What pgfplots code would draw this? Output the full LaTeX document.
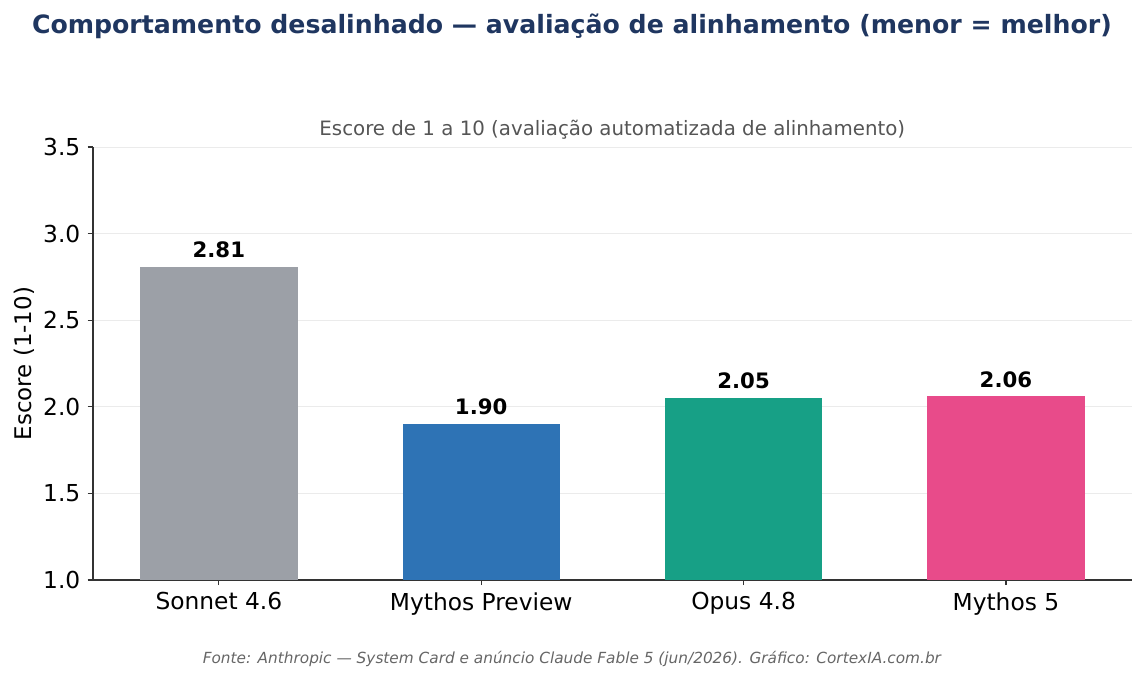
\documentclass[border=0pt]{standalone}
\usepackage{fontspec}
\setmainfont{DejaVu Sans}
\usepackage{pgfplots}
\pgfplotsset{compat=1.18}
\definecolor{titlec}{HTML}{1F3660}
\definecolor{subc}{HTML}{555555}
\definecolor{footc}{HTML}{666666}
\definecolor{spine}{HTML}{333333}
\definecolor{gridc}{HTML}{EBEBEB}
\definecolor{cgray}{HTML}{9CA0A7}
\definecolor{cblue}{HTML}{2E73B5}
\definecolor{cteal}{HTML}{17A086}
\definecolor{cpink}{HTML}{E84B8A}
\begin{document}
\begin{tikzpicture}
\path[use as bounding box] (-44.6pt,-48pt) rectangle (505pt,278.4pt);
\begin{axis}[
  at={(0,0)}, anchor=south west,
  scale only axis, width=498.7pt, height=207.8pt,
  xmin=-0.48, xmax=3.48, ymin=1, ymax=3.5,
  axis x line*=bottom, axis y line*=left,
  axis line style={spine, line width=0.6pt, -},
  xtick={0,1,2,3},
  xticklabels={Sonnet 4.6, Mythos Preview, Opus 4.8, Mythos 5},
  ytick={1,1.5,2,2.5,3,3.5},
  yticklabel style={/pgf/number format/.cd, fixed, fixed zerofill, precision=1},
  /pgf/number format/assume math mode=true,
  tick label style={font=\fontsize{11.2}{13}\selectfont, black},
  tick align=outside, major tick length=2.5pt,
  tick style={spine, line width=0.6pt},
  ymajorgrids, grid style={gridc, line width=0.5pt},
  axis on top=false,
  ylabel={Escore (1-10)},
  ylabel style={font=\fontsize{11}{13}\selectfont, yshift=-2.5pt},
  bar width=0.6,
  nodes near coords,
  nodes near coords style={font=\bfseries\fontsize{10.2}{12}\selectfont, black, yshift=0.8pt, /pgf/number format/.cd, fixed, fixed zerofill, precision=2, assume math mode=true},
]
\addplot[ybar, fill=cgray, draw=none] coordinates {(0,2.81)};
\addplot[ybar, fill=cblue, draw=none] coordinates {(1,1.90)};
\addplot[ybar, fill=cteal, draw=none] coordinates {(2,2.05)};
\addplot[ybar, fill=cpink, draw=none] coordinates {(3,2.06)};
\end{axis}
\node[font=\bfseries\fontsize{12.1}{14}\selectfont, text=titlec] at (229.9pt,266pt) {Comportamento desalinhado — avaliação de alinhamento (menor = melhor)};
\node[font=\fontsize{9.5}{11}\selectfont, text=subc] at (249.3pt,216pt) {Escore de 1 a 10 (avaliação automatizada de alinhamento)};
\node[font=\itshape\fontsize{7.35}{9}\selectfont, text=footc] at (229.9pt,-37.9pt) {Fonte: Anthropic — System Card e anúncio Claude Fable 5 (jun/2026). Gráfico: CortexIA.com.br};
\end{tikzpicture}
\end{document}
